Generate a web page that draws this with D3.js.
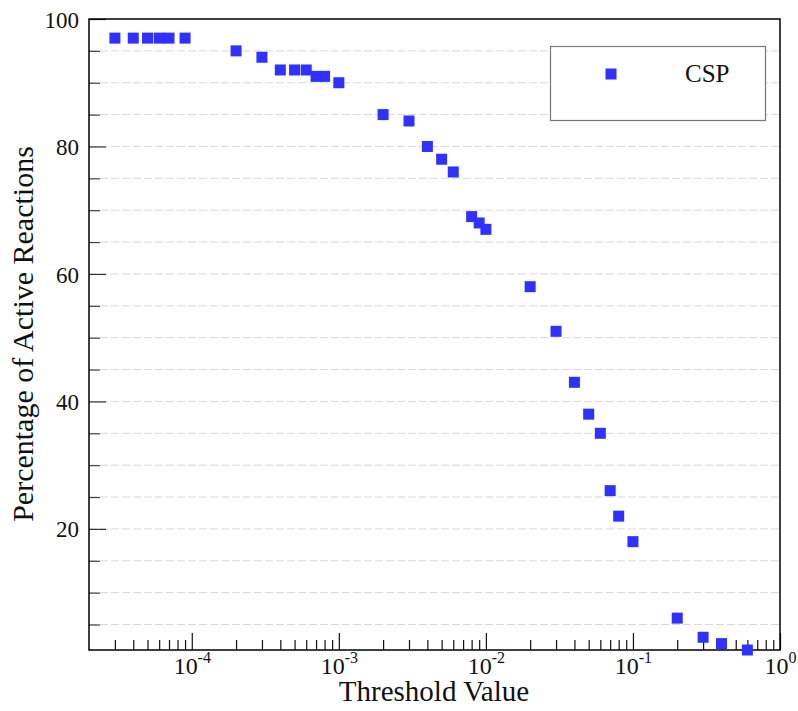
<!DOCTYPE html>
<html>
<head>
<meta charset="utf-8">
<script src="https://cdn.jsdelivr.net/npm/d3@7"></script>
<style>
  body { margin: 0; background: #fff; }
  svg { display: block; }
  svg text { font-family: "Liberation Serif", "Times New Roman", serif !important; }
</style>
</head>
<body>
<svg id="chart" width="798" height="711"></svg>
<script>
// Threshold values and percentage of active reactions
const thresholds = [3e-5, 4e-5, 5e-5, 6e-5, 7e-5, 9e-5,
    2e-4, 3e-4, 4e-4, 5e-4, 6e-4, 7e-4, 8e-4, 1e-3,
    2e-3, 3e-3, 4e-3, 5e-3, 6e-3, 8e-3, 9e-3, 1e-2,
    2e-2, 3e-2, 4e-2, 5e-2, 6e-2, 7e-2, 8e-2, 1e-1,
    2e-1, 3e-1, 4e-1, 6e-1];
const percentActive = [97, 97, 97, 97, 97, 97,
    95, 94, 92, 92, 92, 91, 91, 90,
    85, 84, 80, 78, 76, 69, 68, 67,
    58, 51, 43, 38, 35, 26, 22, 18,
    6, 3, 2, 1];

const xMajorTicks = [1e-4, 1e-3, 1e-2, 1e-1, 1];
const xExponents = ['-4', '-3', '-2', '-1', '0'];
const yMajorTicks = [20, 40, 60, 80, 100];
const yMinorTicks = [5, 10, 15, 25, 30, 35, 45, 50, 55, 65, 70, 75, 85, 90, 95];
const seriesName = 'CSP';

const svg = d3.select('#chart');
const plotLeft = 89, plotRight = 780, plotTop = 19, plotBottom = 650;

const x = d3.scaleLog().domain([2e-5, 1]).range([plotLeft, plotRight]);
const y = d3.scaleLinear().domain([1, 100]).range([plotBottom, plotTop]);

// x minor ticks: 2..9 in each decade
const xMinorTicks = [];
for (let e = -5; e <= -1; e++) {
    for (let m = 2; m <= 9; m++) {
        const v = m * Math.pow(10, e);
        if (v > 2e-5) xMinorTicks.push(v);
    }
}

// dashed gridlines at every 5%
svg.append('g')
    .selectAll('line')
    .data(yMinorTicks.concat([20, 40, 60, 80]))
    .enter()
    .append('line')
    .attr('x1', plotLeft)
    .attr('x2', plotRight)
    .attr('y1', d => y(d))
    .attr('y2', d => y(d))
    .attr('stroke', '#d9d9d9')
    .attr('stroke-width', 1)
    .attr('stroke-dasharray', '8,3');

// y axis - minor then major ticks
svg.append('g')
    .attr('transform', `translate(${plotLeft},0)`)
    .call(d3.axisLeft(y).tickValues(yMinorTicks).tickSize(-11).tickFormat(''))
    .call(g => g.select('.domain').remove())
    .call(g => g.selectAll('.tick line').attr('stroke', '#444').attr('stroke-width', 1.2));

svg.append('g')
    .attr('transform', `translate(${plotLeft},0)`)
    .call(d3.axisLeft(y).tickValues(yMajorTicks).tickSize(-17).tickPadding(10))
    .call(g => g.select('.domain').remove())
    .call(g => g.selectAll('.tick line').attr('stroke', '#333').attr('stroke-width', 1.2))
    .call(g => g.selectAll('.tick text')
        .style('font-size', '23px')
        .attr('fill', '#111')
        .attr('dy', '0.35em'));

// x axis - minor then major ticks
svg.append('g')
    .attr('transform', `translate(0,${plotBottom})`)
    .call(d3.axisBottom(x).tickValues(xMinorTicks).tickSize(-10).tickFormat(''))
    .call(g => g.select('.domain').remove())
    .call(g => g.selectAll('.tick line').attr('stroke', '#111').attr('stroke-width', 1.2));

const xMajor = svg.append('g')
    .attr('transform', `translate(0,${plotBottom})`)
    .call(d3.axisBottom(x).tickValues(xMajorTicks).tickSize(-17).tickFormat(''))
    .call(g => g.select('.domain').remove())
    .call(g => g.selectAll('.tick line').attr('stroke', '#111').attr('stroke-width', 1.2));

const xLabel = xMajor.selectAll('.tick')
    .append('text')
    .attr('y', 24)
    .attr('fill', '#111')
    .style('font-size', '24px')
    .attr('text-anchor', 'middle');
xLabel.append('tspan').text('10');
xLabel.append('tspan')
    .attr('dy', -11)
    .style('font-size', '16px')
    .text((d, i) => xExponents[i]);

// frame
svg.append('rect')
    .attr('x', plotLeft)
    .attr('y', plotTop)
    .attr('width', plotRight - plotLeft)
    .attr('height', plotBottom - plotTop)
    .attr('fill', 'none')
    .attr('stroke', '#000')
    .attr('stroke-width', 1.5);

// data points
const size = 11;
svg.append('g')
    .selectAll('rect')
    .data(thresholds.map((t, i) => ({t, v: percentActive[i]})))
    .enter()
    .append('rect')
    .attr('x', d => x(d.t) - size / 2)
    .attr('y', d => y(d.v) - size / 2)
    .attr('width', size)
    .attr('height', size)
    .attr('fill', '#3030ff');

// legend
const legend = svg.append('g');
legend.append('rect')
    .attr('x', 550.5)
    .attr('y', 46.5)
    .attr('width', 215)
    .attr('height', 74)
    .attr('fill', '#fff')
    .attr('stroke', '#777')
    .attr('stroke-width', 1.2);
legend.append('rect')
    .attr('x', 611 - size / 2)
    .attr('y', 74 - size / 2)
    .attr('width', size)
    .attr('height', size)
    .attr('fill', '#3030ff');
legend.append('text')
    .attr('x', 685)
    .attr('y', 82)
    .style('font-size', '25px')
    .attr('fill', '#111')
    .text(seriesName);

// axis titles
svg.append('text')
    .attr('x', 434)
    .attr('y', 701)
    .attr('text-anchor', 'middle')
    .style('font-size', '29px')
    .attr('fill', '#111')
    .text('Threshold Value');

svg.append('text')
    .attr('transform', 'translate(33,334) rotate(-90)')
    .attr('text-anchor', 'middle')
    .style('font-size', '30px')
    .attr('fill', '#111')
    .text('Percentage of Active Reactions');
</script>
</body>
</html>
